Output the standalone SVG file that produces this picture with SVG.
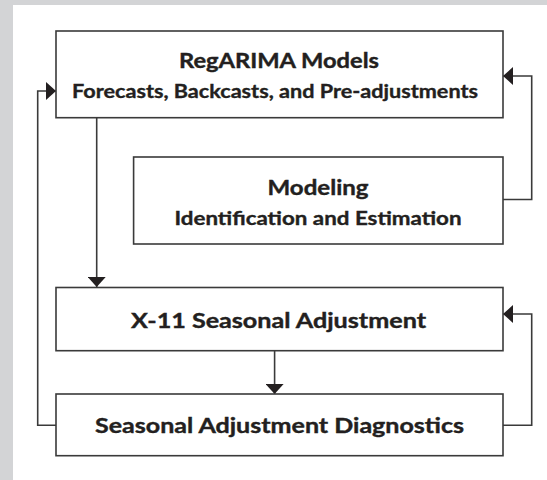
<svg xmlns="http://www.w3.org/2000/svg" width="547" height="480" viewBox="0 0 547 480">
<defs>
<marker id="ah" markerWidth="10" markerHeight="18" refX="10" refY="9" orient="auto" markerUnits="userSpaceOnUse">
<path d="M0,0 L10,9 L0,18 Z" fill="#231f20"/>
</marker>
<style>
.box{fill:#fff;stroke:#3a3a3a;stroke-width:1.6}
.con{fill:none;stroke:#3a3a3a;stroke-width:1.6}
.t1{font-family:Lato,"Open Sans","Liberation Sans",sans-serif;font-weight:bold;font-size:21px;fill:#231f20;stroke:#231f20;stroke-width:0.4;text-anchor:middle}
.t2{font-family:Lato,"Open Sans","Liberation Sans",sans-serif;font-weight:bold;font-size:18px;fill:#231f20;stroke:#231f20;stroke-width:0.35;text-anchor:middle}
</style>
</defs>
<rect x="0" y="0" width="547" height="480" fill="#d3d4d6"/>
<rect x="13" y="5" width="534" height="475" fill="#fff"/>
<g id="connectors">
<path class="con" d="M96.7,118 V287" marker-end="url(#ah)"/>
<path class="con" d="M503,199.5 H531.7 V76 H503" marker-end="url(#ah)"/>
<path class="con" d="M56,425.3 H37.7 V91 H56" marker-end="url(#ah)"/>
<path class="con" d="M274.6,351 V394" marker-end="url(#ah)"/>
<path class="con" d="M503,425.3 H531.7 V314 H503" marker-end="url(#ah)"/>
</g>
<g id="regarima">
<rect class="box" x="56" y="31" width="447" height="86.7"/>
<text class="t1" x="279" y="68.3" textLength="200" lengthAdjust="spacingAndGlyphs">RegARIMA Models</text>
<text class="t2" x="275" y="97.7" textLength="406" lengthAdjust="spacingAndGlyphs">Forecasts, Backcasts, and Pre-adjustments</text>
</g>
<g id="modeling">
<rect class="box" x="133.6" y="157" width="369.4" height="87"/>
<text class="t1" x="318" y="194.5" textLength="101" lengthAdjust="spacingAndGlyphs">Modeling</text>
<text class="t2" x="318" y="225" textLength="287" lengthAdjust="spacingAndGlyphs">Identification and Estimation</text>
</g>
<g id="x11">
<rect class="box" x="56" y="287.5" width="447" height="63.2"/>
<text class="t1" x="278.5" y="328" textLength="295" lengthAdjust="spacingAndGlyphs">X-11 Seasonal Adjustment</text>
</g>
<g id="diagnostics">
<rect class="box" x="56" y="394" width="447" height="61.7"/>
<text class="t1" x="279.5" y="433" textLength="369" lengthAdjust="spacingAndGlyphs">Seasonal Adjustment Diagnostics</text>
</g>
</svg>
